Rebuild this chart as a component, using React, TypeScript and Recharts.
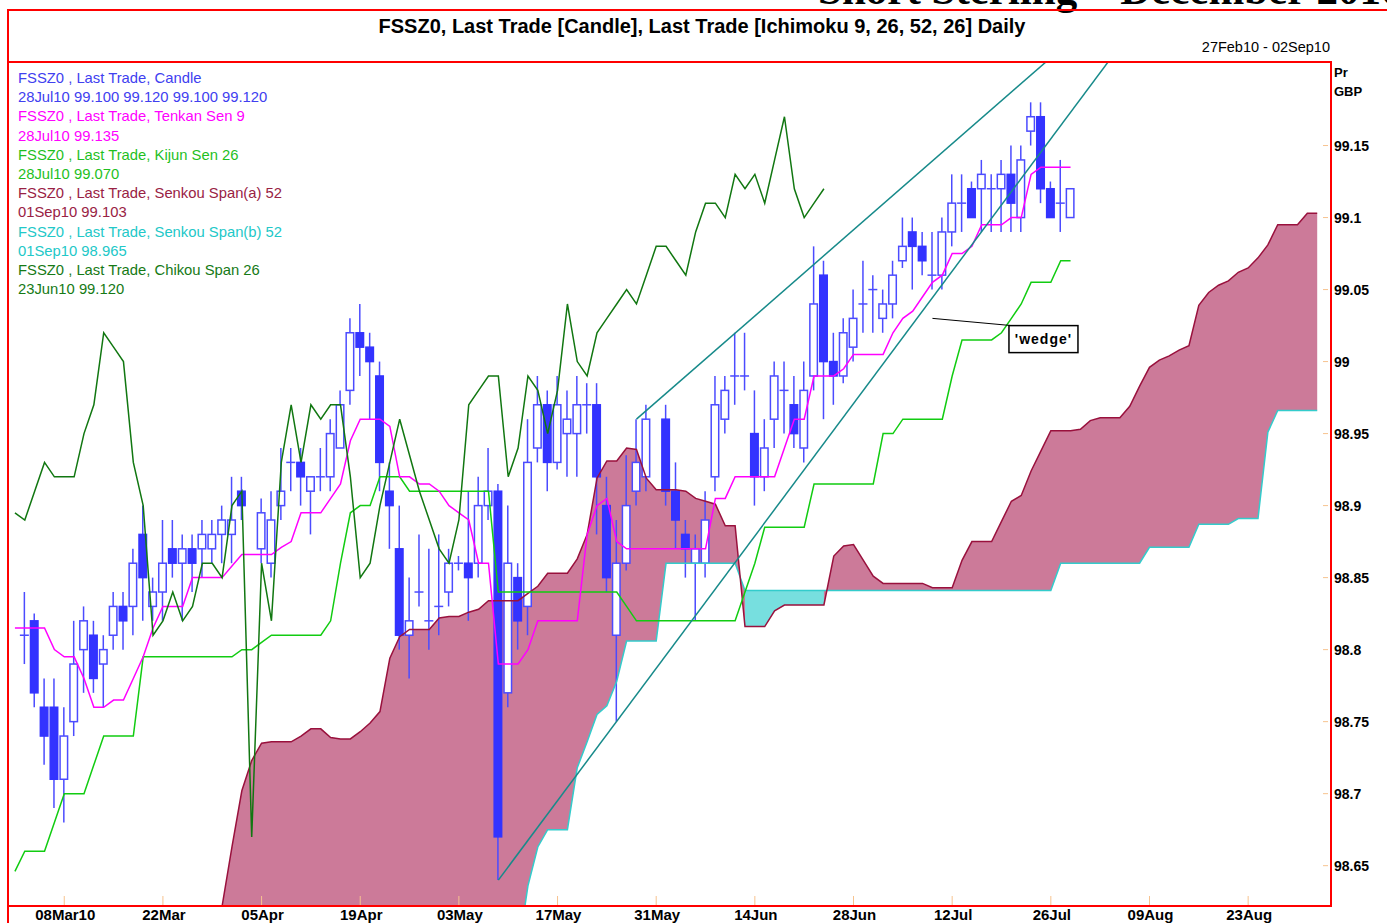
import React from 'react';
import { ComposedChart, Bar, Line, Area, XAxis, YAxis, ReferenceLine, ReferenceDot } from 'recharts';

// trading-day slots 0..133 = 01Mar10 .. 02Sep10 (weekdays)
const SLOTS = 134;
const tickIdx = [5, 15, 25, 35, 45, 55, 65, 75, 85, 95, 105, 115, 125];
const tickLabels = ['08Mar10', '22Mar', '05Apr', '19Apr', '03May', '17May', '31May', '14Jun', '28Jun', '12Jul', '26Jul', '09Aug', '23Aug'];
const priceTicks = [98.65, 98.7, 98.75, 98.8, 98.85, 98.9, 98.95, 99, 99.05, 99.1, 99.15];

const opens = [
  null, 98.81, 98.82, 98.76, 98.76, 98.71, 98.75, 98.80, 98.81, 98.79,
  98.81, 98.83, 98.83, 98.88, 98.83, 98.84, 98.87, 98.86, 98.87, 98.87,
  98.87, 98.88, 98.88, 98.91, null, 98.87, 98.86, 98.90, 98.93, 98.93,
  98.91, 98.92, 98.92, 98.94, 98.98, 99.02, 99.01, 98.99, 98.91, 98.87,
  98.81, 98.84, 98.82, 98.83, 98.84, 98.86, 98.86, 98.86, 98.90, 98.91,
  98.77, 98.85, 98.83, 98.94, 98.97, 98.93, 98.95, 98.95, 98.97, 98.97,
  98.90, 98.81, 98.86, 98.91, 98.92, null, 98.96, 98.91, 98.88, 98.86,
  98.86, 98.92, 98.96, 98.99, 98.99, 98.95, 98.92, 98.96, 98.98, 98.97,
  98.94, 98.99, 99.06, 99.00, 98.99, 99.01, 99.04, 99.05, 99.03, 99.04,
  99.07, 99.09, 99.08, 99.06, 99.06, 99.09, 99.11, 99.12, 99.12, 99.12,
  99.12, 99.13, 99.10, 99.16, 99.17, 99.12, 99.11, 99.10,
];
const highs = [
  null, 98.84, 98.825, 98.78, 98.78, 98.76, 98.82, 98.83, 98.82, 98.81,
  98.84, 98.84, 98.87, 98.90, 98.85, 98.89, 98.89, 98.88, 98.88, 98.89,
  98.89, 98.90, 98.92, 98.92, null, 98.905, 98.91, 98.94, 98.94, 98.94,
  98.92, 98.94, 98.96, 98.98, 99.03, 99.04, 99.02, 99.00, 98.93, 98.90,
  98.85, 98.88, 98.87, 98.88, 98.87, 98.865, 98.91, 98.92, 98.94, 98.915,
  98.90, 98.86, 98.96, 98.99, 98.98, 98.99, 98.98, 98.99, 98.985, 98.985,
  98.92, 98.89, 98.935, 98.96, 98.97, null, 98.97, 98.93, 98.89, 98.88,
  98.91, 98.99, 98.99, 99.02, 99.02, 98.98, 98.96, 99.00, 99.00, 98.99,
  99.00, 99.08, 99.07, 99.02, 99.03, 99.05, 99.07, 99.06, 99.05, 99.07,
  99.10, 99.10, 99.09, 99.09, 99.10, 99.13, 99.13, 99.125, 99.14, 99.13,
  99.14, 99.15, 99.15, 99.18, 99.18, 99.125, 99.14, 99.12,
];
const lows = [
  null, 98.79, 98.76, 98.72, 98.69, 98.68, 98.74, 98.77, 98.77, 98.76,
  98.80, 98.80, 98.81, 98.82, 98.82, 98.82, 98.85, 98.82, 98.84, 98.85,
  98.86, 98.86, 98.86, 98.89, null, 98.86, 98.85, 98.89, 98.91, 98.90,
  98.88, 98.91, 98.91, 98.94, 98.97, 98.99, 98.96, 98.91, 98.87, 98.80,
  98.78, 98.83, 98.80, 98.81, 98.83, 98.855, 98.82, 98.85, 98.89, 98.64,
  98.76, 98.80, 98.81, 98.93, 98.91, 98.925, 98.92, 98.92, 98.95, 98.88,
  98.84, 98.75, 98.855, 98.90, 98.91, null, 98.90, 98.87, 98.85, 98.82,
  98.85, 98.91, 98.95, 98.97, 98.98, 98.90, 98.91, 98.94, 98.95, 98.94,
  98.93, 98.98, 98.96, 98.97, 98.985, 99.00, 99.02, 99.02, 99.02, 99.03,
  99.065, 99.05, 99.06, 99.05, 99.05, 99.08, 99.09, 99.10, 99.09, 99.09,
  99.09, 99.09, 99.09, 99.15, 99.11, 99.10, 99.09, 99.10,
];
const closes = [
  null, 98.81, 98.77, 98.74, 98.71, 98.74, 98.79, 98.82, 98.78, 98.80,
  98.83, 98.82, 98.86, 98.85, 98.84, 98.86, 98.86, 98.87, 98.86, 98.88,
  98.88, 98.89, 98.89, 98.90, null, 98.895, 98.89, 98.91, 98.93, 98.92,
  98.92, 98.92, 98.95, 98.97, 99.02, 99.01, 99.00, 98.93, 98.90, 98.81,
  98.82, 98.84, 98.82, 98.83, 98.86, 98.86, 98.85, 98.90, 98.91, 98.67,
  98.86, 98.82, 98.93, 98.97, 98.93, 98.97, 98.96, 98.97, 98.97, 98.92,
  98.85, 98.86, 98.90, 98.93, 98.96, null, 98.91, 98.89, 98.87, 98.87,
  98.89, 98.97, 98.98, 98.99, 98.99, 98.92, 98.94, 98.99, 98.98, 98.95,
  98.98, 99.04, 99.00, 98.99, 99.02, 99.03, 99.04, 99.05, 99.04, 99.06,
  99.08, 99.08, 99.07, 99.06, 99.09, 99.11, 99.11, 99.10, 99.13, 99.12,
  99.13, 99.11, 99.14, 99.17, 99.12, 99.10, 99.11, 99.12,
];

const tenkan = [
  98.815, 98.815, 98.815, 98.815, 98.80, 98.795, 98.795, 98.78, 98.76, 98.76,
  98.765, 98.765, 98.78, 98.795, 98.815, 98.83, 98.83, 98.83, 98.85, 98.85,
  98.85, 98.85, 98.858, 98.866, 98.866, 98.866, 98.866, 98.871, 98.875, 98.895,
  98.895, 98.895, 98.905, 98.915, 98.945, 98.96, 98.96, 98.96, 98.955, 98.92,
  98.92, 98.915, 98.915, 98.91, 98.90, 98.895, 98.89, 98.86, 98.86, 98.79,
  98.79, 98.79, 98.80, 98.82, 98.82, 98.82, 98.82, 98.82, 98.88, 98.90,
  98.905, 98.875, 98.87, 98.87, 98.87, 98.87, 98.87, 98.87, 98.87, 98.87,
  98.87, 98.905, 98.905, 98.92, 98.92, 98.92, 98.92, 98.92, 98.94, 98.96,
  98.96, 98.99, 98.99, 98.99, 98.995, 99.005, 99.005, 99.005, 99.005, 99.02,
  99.03, 99.035, 99.045, 99.055, 99.06, 99.075, 99.075, 99.08, 99.095, 99.095,
  99.095, 99.10, 99.10, 99.13, 99.135, 99.135, 99.135, 99.135,
];
const kijun = [
  98.646, 98.66, 98.66, 98.66, 98.68, 98.70, 98.70, 98.70, 98.72, 98.74,
  98.74, 98.74, 98.74, 98.795, 98.795, 98.795, 98.795, 98.795, 98.795, 98.795,
  98.795, 98.795, 98.795, 98.80, 98.80, 98.805, 98.81, 98.81, 98.81, 98.81,
  98.81, 98.81, 98.82, 98.86, 98.895, 98.90, 98.90, 98.92, 98.92, 98.92,
  98.91, 98.91, 98.91, 98.91, 98.91, 98.91, 98.91, 98.91, 98.91, 98.84,
  98.84, 98.84, 98.84, 98.84, 98.84, 98.84, 98.84, 98.84, 98.84, 98.84,
  98.84, 98.84, 98.83, 98.82, 98.82, 98.82, 98.82, 98.82, 98.82, 98.82,
  98.82, 98.82, 98.82, 98.82, 98.84, 98.86, 98.885, 98.885, 98.885, 98.885,
  98.885, 98.915, 98.915, 98.915, 98.915, 98.915, 98.915, 98.915, 98.95, 98.95,
  98.96, 98.96, 98.96, 98.96, 98.96, 98.99, 99.015, 99.015, 99.015, 99.015,
  99.02, 99.03, 99.04, 99.055, 99.055, 99.055, 99.07, 99.07,
];
// plotted 26 days back, ends 23Jun10
const chikou = [
  98.895, 98.89, 98.91, 98.93, 98.92, 98.92, 98.92, 98.95, 98.97, 99.02,
  99.01, 99.00, 98.93, 98.90, 98.81, 98.82, 98.84, 98.82, 98.83, 98.86,
  98.86, 98.85, 98.90, 98.91, 98.67, 98.86, 98.82, 98.93, 98.97, 98.93,
  98.97, 98.96, 98.97, 98.97, 98.92, 98.85, 98.86, 98.90, 98.93, 98.96,
  null, 98.91, 98.89, 98.87, 98.86, 98.89, 98.97, 98.98, 98.99, 98.99,
  98.92, 98.94, 98.99, 98.98, 98.95, 98.98, 99.04, 99.00, 98.99, 99.02,
  99.03, 99.04, 99.05, 99.04, 99.06, 99.08, 99.08, 99.07, 99.06, 99.09,
  99.11, 99.11, 99.10, 99.13, 99.12, 99.13, 99.11, 99.14, 99.17, 99.12,
  99.10, 99.11, 99.12,
];
// senkou span a, from slot 12 to 01Sep10
const SPAN_A_START = 12;
const spanA = [
  98.622, 98.622, 98.622, 98.622, 98.622, 98.622, 98.622, 98.622, 98.622, 98.622,
  98.663, 98.702, 98.723, 98.735, 98.736, 98.736, 98.736, 98.740, 98.745, 98.745,
  98.739, 98.738, 98.738, 98.743, 98.749, 98.757, 98.794, 98.809, 98.814, 98.814,
  98.814, 98.822, 98.823, 98.823, 98.826, 98.828, 98.834, 98.834, 98.834, 98.834,
  98.839, 98.844, 98.853, 98.853, 98.853, 98.863, 98.880, 98.919, 98.931, 98.931,
  98.940, 98.939, 98.919, 98.911, 98.911, 98.911, 98.910, 98.905, 98.903, 98.901,
  98.886, 98.886, 98.816, 98.816, 98.816, 98.827, 98.831, 98.831, 98.831, 98.831,
  98.831, 98.865, 98.872, 98.873, 98.862, 98.851, 98.846, 98.846, 98.846, 98.846,
  98.846, 98.843, 98.843, 98.843, 98.862, 98.875, 98.875, 98.875, 98.889, 98.903,
  98.907, 98.924, 98.938, 98.952, 98.952, 98.952, 98.953, 98.959, 98.961, 98.961,
  98.961, 98.969, 98.983, 98.996, 99.001, 99.004, 99.008, 99.011, 99.039, 99.048,
  99.053, 99.056, 99.062, 99.065, 99.072, 99.081, 99.095, 99.095, 99.095, 99.103,
  99.103,
];
// senkou span b, below the scale before slot 51
const SPAN_B_START = 50;
const spanB = [
  98.55, 98.59, 98.636, 98.663, 98.675, 98.675, 98.675, 98.718, 98.736, 98.755,
  98.761, 98.778, 98.806, 98.806, 98.806, 98.806, 98.86, 98.86, 98.86, 98.86,
  98.86, 98.86, 98.86, 98.86, 98.841, 98.841, 98.841, 98.841, 98.841, 98.841,
  98.841, 98.841, 98.841, 98.841, 98.841, 98.841, 98.841, 98.841, 98.841, 98.841,
  98.841, 98.841, 98.841, 98.841, 98.841, 98.841, 98.841, 98.841, 98.841, 98.841,
  98.841, 98.841, 98.841, 98.841, 98.841, 98.841, 98.86, 98.86, 98.86, 98.86,
  98.86, 98.86, 98.86, 98.86, 98.86, 98.871, 98.871, 98.871, 98.871, 98.871,
  98.887, 98.887, 98.887, 98.887, 98.891, 98.891, 98.891, 98.951, 98.966, 98.966,
  98.966, 98.966, 98.966,
];

const Y_MIN = 98.622;
const Y_MAX = 99.208;
const CLOUD_FLOOR = 98.55;

const BLUE = '#3333ff';
const WICK = '#4b4bff';
const TICK = '#f7c38f';
const FONT = '"Liberation Sans", Arial, sans-serif';

const rows = Array.from({ length: SLOTS }, (_, i) => {
  const h = highs[i] ?? null;
  const a = i >= SPAN_A_START ? spanA[i - SPAN_A_START] ?? null : null;
  const bRaw = i >= SPAN_B_START ? spanB[i - SPAN_B_START] ?? null : null;
  const base = bRaw ?? CLOUD_FLOOR;
  return {
    i,
    o: opens[i] ?? null,
    h,
    l: lows[i] ?? null,
    c: closes[i] ?? null,
    range: h != null ? [lows[i], h] : null,
    tenkan: tenkan[i] ?? null,
    kijun: kijun[i] ?? null,
    chikou: chikou[i] ?? null,
    spanA: a,
    spanB: bRaw,
    cloud: a != null ? [base, a] : null,
    cloudUp: a != null && bRaw != null && bRaw > a ? [a, bRaw] : null,
  };
});

const Candle = (props: any) => {
  const { x, width, payload } = props;
  if (payload.h == null) return null;
  const y0 = Math.min(props.y, props.y + props.height);
  const hh = Math.abs(props.height);
  const k = payload.h > payload.l ? hh / (payload.h - payload.l) : 0;
  const cx = x + width / 2;
  const yTop = y0 + (payload.h - Math.max(payload.o, payload.c)) * k;
  const yBot = y0 + (payload.h - Math.min(payload.o, payload.c)) * k;
  const up = payload.c > payload.o;
  return (
    <g>
      <line x1={cx} x2={cx} y1={y0} y2={y0 + hh} stroke={WICK} strokeWidth={1.5} />
      {yBot - yTop < 1 ? (
        <line x1={x} x2={x + width} y1={yTop} y2={yTop} stroke={WICK} strokeWidth={1.5} />
      ) : (
        <rect x={x + 0.75} y={yTop} width={width - 1.5} height={yBot - yTop}
          fill={up ? '#ffffff' : BLUE} stroke={up ? WICK : BLUE} strokeWidth={1.5} />
      )}
    </g>
  );
};

const BottomTick = ({ x, y, payload }: any) => {
  const k = tickIdx.indexOf(payload.value);
  if (k < 0) return null;
  return (
    <g>
      <line x1={x} x2={x} y1={y - 10} y2={y - 1} stroke={TICK} strokeWidth={1} />
      <text x={x + 1} y={y + 14} textAnchor="middle" fontFamily={FONT} fontWeight="bold" fontSize={15} fill="#000">
        {tickLabels[k]}
      </text>
    </g>
  );
};

const TopTick = ({ x, y }: any) => (
  <line x1={x} x2={x} y1={y + 1} y2={y + 8} stroke={TICK} strokeWidth={1} />
);

const PriceTick = ({ x, y, payload }: any) => (
  <g>
    <line x1={x - 9} x2={x - 4} y1={y} y2={y} stroke={TICK} strokeWidth={1} />
    <text x={x + 2} y={y + 5} fontFamily={FONT} fontWeight="bold" fontSize={14} fill="#000">
      {String(Number(payload.value.toFixed(2)))}
    </text>
  </g>
);

const legend = [
  { text: 'FSSZ0 , Last Trade, Candle', color: '#4040f0' },
  { text: '28Jul10 99.100 99.120 99.100 99.120', color: '#4040f0' },
  { text: 'FSSZ0 , Last Trade, Tenkan Sen 9', color: '#ff00ff' },
  { text: '28Jul10 99.135', color: '#ff00ff' },
  { text: 'FSSZ0 , Last Trade, Kijun Sen 26', color: '#1fbf1f' },
  { text: '28Jul10 99.070', color: '#1fbf1f' },
  { text: 'FSSZ0 , Last Trade, Senkou Span(a) 52', color: '#992244' },
  { text: '01Sep10 99.103', color: '#992244' },
  { text: 'FSSZ0 , Last Trade, Senkou Span(b) 52', color: '#22c8c8' },
  { text: '01Sep10 98.965', color: '#22c8c8' },
  { text: 'FSSZ0 , Last Trade, Chikou Span 26', color: '#167a16' },
  { text: '23Jun10 99.120', color: '#167a16' },
];

export default function App() {
  return (
    <div style={{ position: 'fixed', left: 0, top: 0, width: 1387, height: 923, overflow: 'hidden', background: '#fff', fontFamily: FONT }}>
      <div style={{ position: 'absolute', left: 818, top: -33, fontFamily: '"Liberation Serif", serif', fontWeight: 'bold', fontSize: 43, whiteSpace: 'nowrap', lineHeight: '46px' }}>
        Short Sterling – December 2010
      </div>
      <div style={{ position: 'absolute', left: 7, top: 9, width: 1500, height: 1000, border: '2px solid #ff0000' }} />
      <div style={{ position: 'absolute', left: 0, top: 14, width: 1404, textAlign: 'center', fontWeight: 'bold', fontSize: 20, lineHeight: '24px' }}>
        FSSZ0, Last Trade [Candle], Last Trade [Ichimoku 9, 26, 52, 26] Daily
      </div>
      <div style={{ position: 'absolute', right: 1387 - 1330, top: 38, fontSize: 14.5, lineHeight: '18px' }}>
        27Feb10 - 02Sep10
      </div>
      <div style={{ position: 'absolute', left: 0, top: 0 }}>
        <ComposedChart width={1387} height={923} data={rows} margin={{ top: 62, right: 0, bottom: 0, left: 10 }}>
          <XAxis dataKey="i" type="category" height={17} ticks={tickIdx} interval={0}
            axisLine={false} tickLine={false} tickSize={0} tickMargin={0} tick={<BottomTick />} />
          <XAxis xAxisId="top" orientation="top" dataKey="i" type="category" height={0} ticks={tickIdx} interval={0}
            axisLine={false} tickLine={false} tickSize={0} tickMargin={0} tick={<TopTick />} />
          <YAxis orientation="right" type="number" domain={[Y_MIN, Y_MAX]} allowDataOverflow ticks={priceTicks}
            width={55} axisLine={false} tickLine={false} tickSize={0} tickMargin={0} tick={<PriceTick />} />
          <Area dataKey="cloud" type="linear" fill="#cc7a99" fillOpacity={1} stroke="none" isAnimationActive={false} />
          <Area dataKey="cloudUp" type="linear" fill="#77dfdf" fillOpacity={1} stroke="none" isAnimationActive={false} />
          <Line dataKey="spanB" type="linear" stroke="#33cccc" strokeWidth={1.5} dot={false} isAnimationActive={false} />
          <Line dataKey="spanA" type="linear" stroke="#99113d" strokeWidth={1.5} dot={false} isAnimationActive={false} />
          <Bar dataKey="range" barSize={9} shape={Candle} isAnimationActive={false} />
          <Line dataKey="kijun" type="linear" stroke="#11cc11" strokeWidth={1.5} dot={false} isAnimationActive={false} />
          <Line dataKey="tenkan" type="linear" stroke="#ff00ff" strokeWidth={1.5} dot={false} isAnimationActive={false} />
          <Line dataKey="chikou" type="linear" stroke="#117711" strokeWidth={1.5} dot={false} connectNulls isAnimationActive={false} />
          <ReferenceLine segment={[{ x: 49, y: 98.64 }, { x: 112, y: 99.219 }]} stroke="#178a8a" strokeWidth={1.5} ifOverflow="hidden" />
          <ReferenceLine segment={[{ x: 63, y: 98.96 }, { x: 105, y: 99.211 }]} stroke="#178a8a" strokeWidth={1.5} ifOverflow="hidden" />
          <ReferenceLine segment={[{ x: 93, y: 99.03 }, { x: 101, y: 99.025 }]} stroke="#000" strokeWidth={1} ifOverflow="hidden" />
          <ReferenceDot x={104} y={99.0156} r={0} ifOverflow="visible" shape={(p: any) => (
            <g>
              <rect x={p.cx - 32} y={p.cy - 13.5} width={69} height={27} fill="#fff" stroke="#000" strokeWidth={1.5} />
              <text x={p.cx + 2.5} y={p.cy + 5} textAnchor="middle" fontFamily={FONT} fontWeight="bold" fontSize={14} letterSpacing={1} fill="#000">'wedge'</text>
            </g>
          )} />
        </ComposedChart>
      </div>
      <div style={{ position: 'absolute', left: 7, top: 61, width: 1325, height: 846, border: '2px solid #ff0000', boxSizing: 'border-box', pointerEvents: 'none' }} />
      <div style={{ position: 'absolute', left: 1334, top: 63, fontWeight: 'bold', fontSize: 13, lineHeight: '19px' }}>
        Pr<br />GBP
      </div>
      <div style={{ position: 'absolute', left: 18, top: 69, fontSize: 14.8, lineHeight: '19.2px' }}>
        {legend.map((l) => (
          <div key={l.text} style={{ color: l.color, whiteSpace: 'nowrap' }}>{l.text}</div>
        ))}
      </div>
    </div>
  );
}
